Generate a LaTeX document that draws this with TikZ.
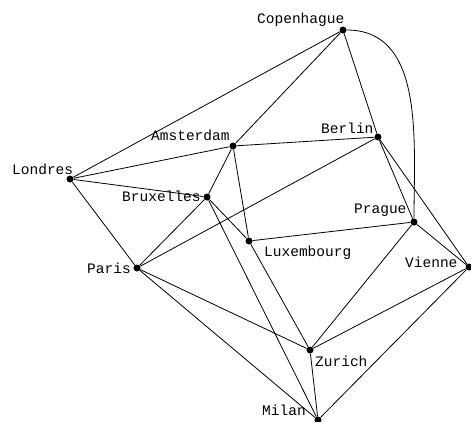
\documentclass[tikz,border=0pt]{standalone}
\usepackage{fontspec}
\setmonofont{Liberation Mono}
\begin{document}
\begin{tikzpicture}[x=1pt,y=-1pt,
  city/.style={circle,fill=black,inner sep=0pt,minimum size=7pt},
  lbl/.style={inner sep=0pt,anchor=base west,font=\fontsize{14.5}{17}\selectfont\ttfamily},
  road/.style={draw=black,line width=0.8pt}]
\useasboundingbox (0,0) rectangle (471,421);
% cities
\node[city] (cop) at (343,30) {};
\node[city] (ams) at (233,146) {};
\node[city] (ber) at (378,137) {};
\node[city] (lon) at (70,179) {};
\node[city] (bru) at (207,197) {};
\node[city] (pra) at (414,222) {};
\node[city] (lux) at (249,241) {};
\node[city] (par) at (137,268) {};
\node[city] (vie) at (469,267) {};
\node[city] (zur) at (310,350) {};
\node[city] (mil) at (318,420) {};
% roads
\path[road] (cop) -- (lon);
\path[road] (cop) -- (ams);
\path[road] (cop) -- (ber);
\path[road] (cop) to[out=0,in=90] (pra);
\path[road] (lon) -- (ams);
\path[road] (lon) -- (bru);
\path[road] (lon) -- (par);
\path[road] (ams) -- (ber);
\path[road] (ams) -- (bru);
\path[road] (ams) -- (lux);
\path[road] (ber) -- (par);
\path[road] (ber) -- (pra);
\path[road] (ber) -- (vie);
\path[road] (bru) -- (par);
\path[road] (bru) -- (lux);
\path[road] (bru) -- (mil);
\path[road] (pra) -- (lux);
\path[road] (pra) -- (vie);
\path[road] (pra) -- (zur);
\path[road] (lux) -- (zur);
\path[road] (par) -- (zur);
\path[road] (par) -- (mil);
\path[road] (vie) -- (zur);
\path[road] (vie) -- (mil);
\path[road] (zur) -- (mil);
% labels
\node[lbl] (lcop) at (257,23) {Copenhague};
\node[lbl] (lams) at (151,140) {Amsterdam};
\node[lbl] (lber) at (321,133) {Berlin};
\node[lbl] (llon) at (12,174) {Londres};
\node[lbl] (lbru) at (122,201) {Bruxelles};
\node[lbl] (lpra) at (354,213) {Prague};
\node[lbl] (lvie) at (405,267) {Vienne};
\node[lbl] (llux) at (264,256) {Luxembourg};
\node[lbl] (lzur) at (315,366) {Zurich};
\node[lbl] (lmil) at (262,415) {Milan};
\node[lbl] (lpar) at (87,273) {Paris};
\end{tikzpicture}
\end{document}
